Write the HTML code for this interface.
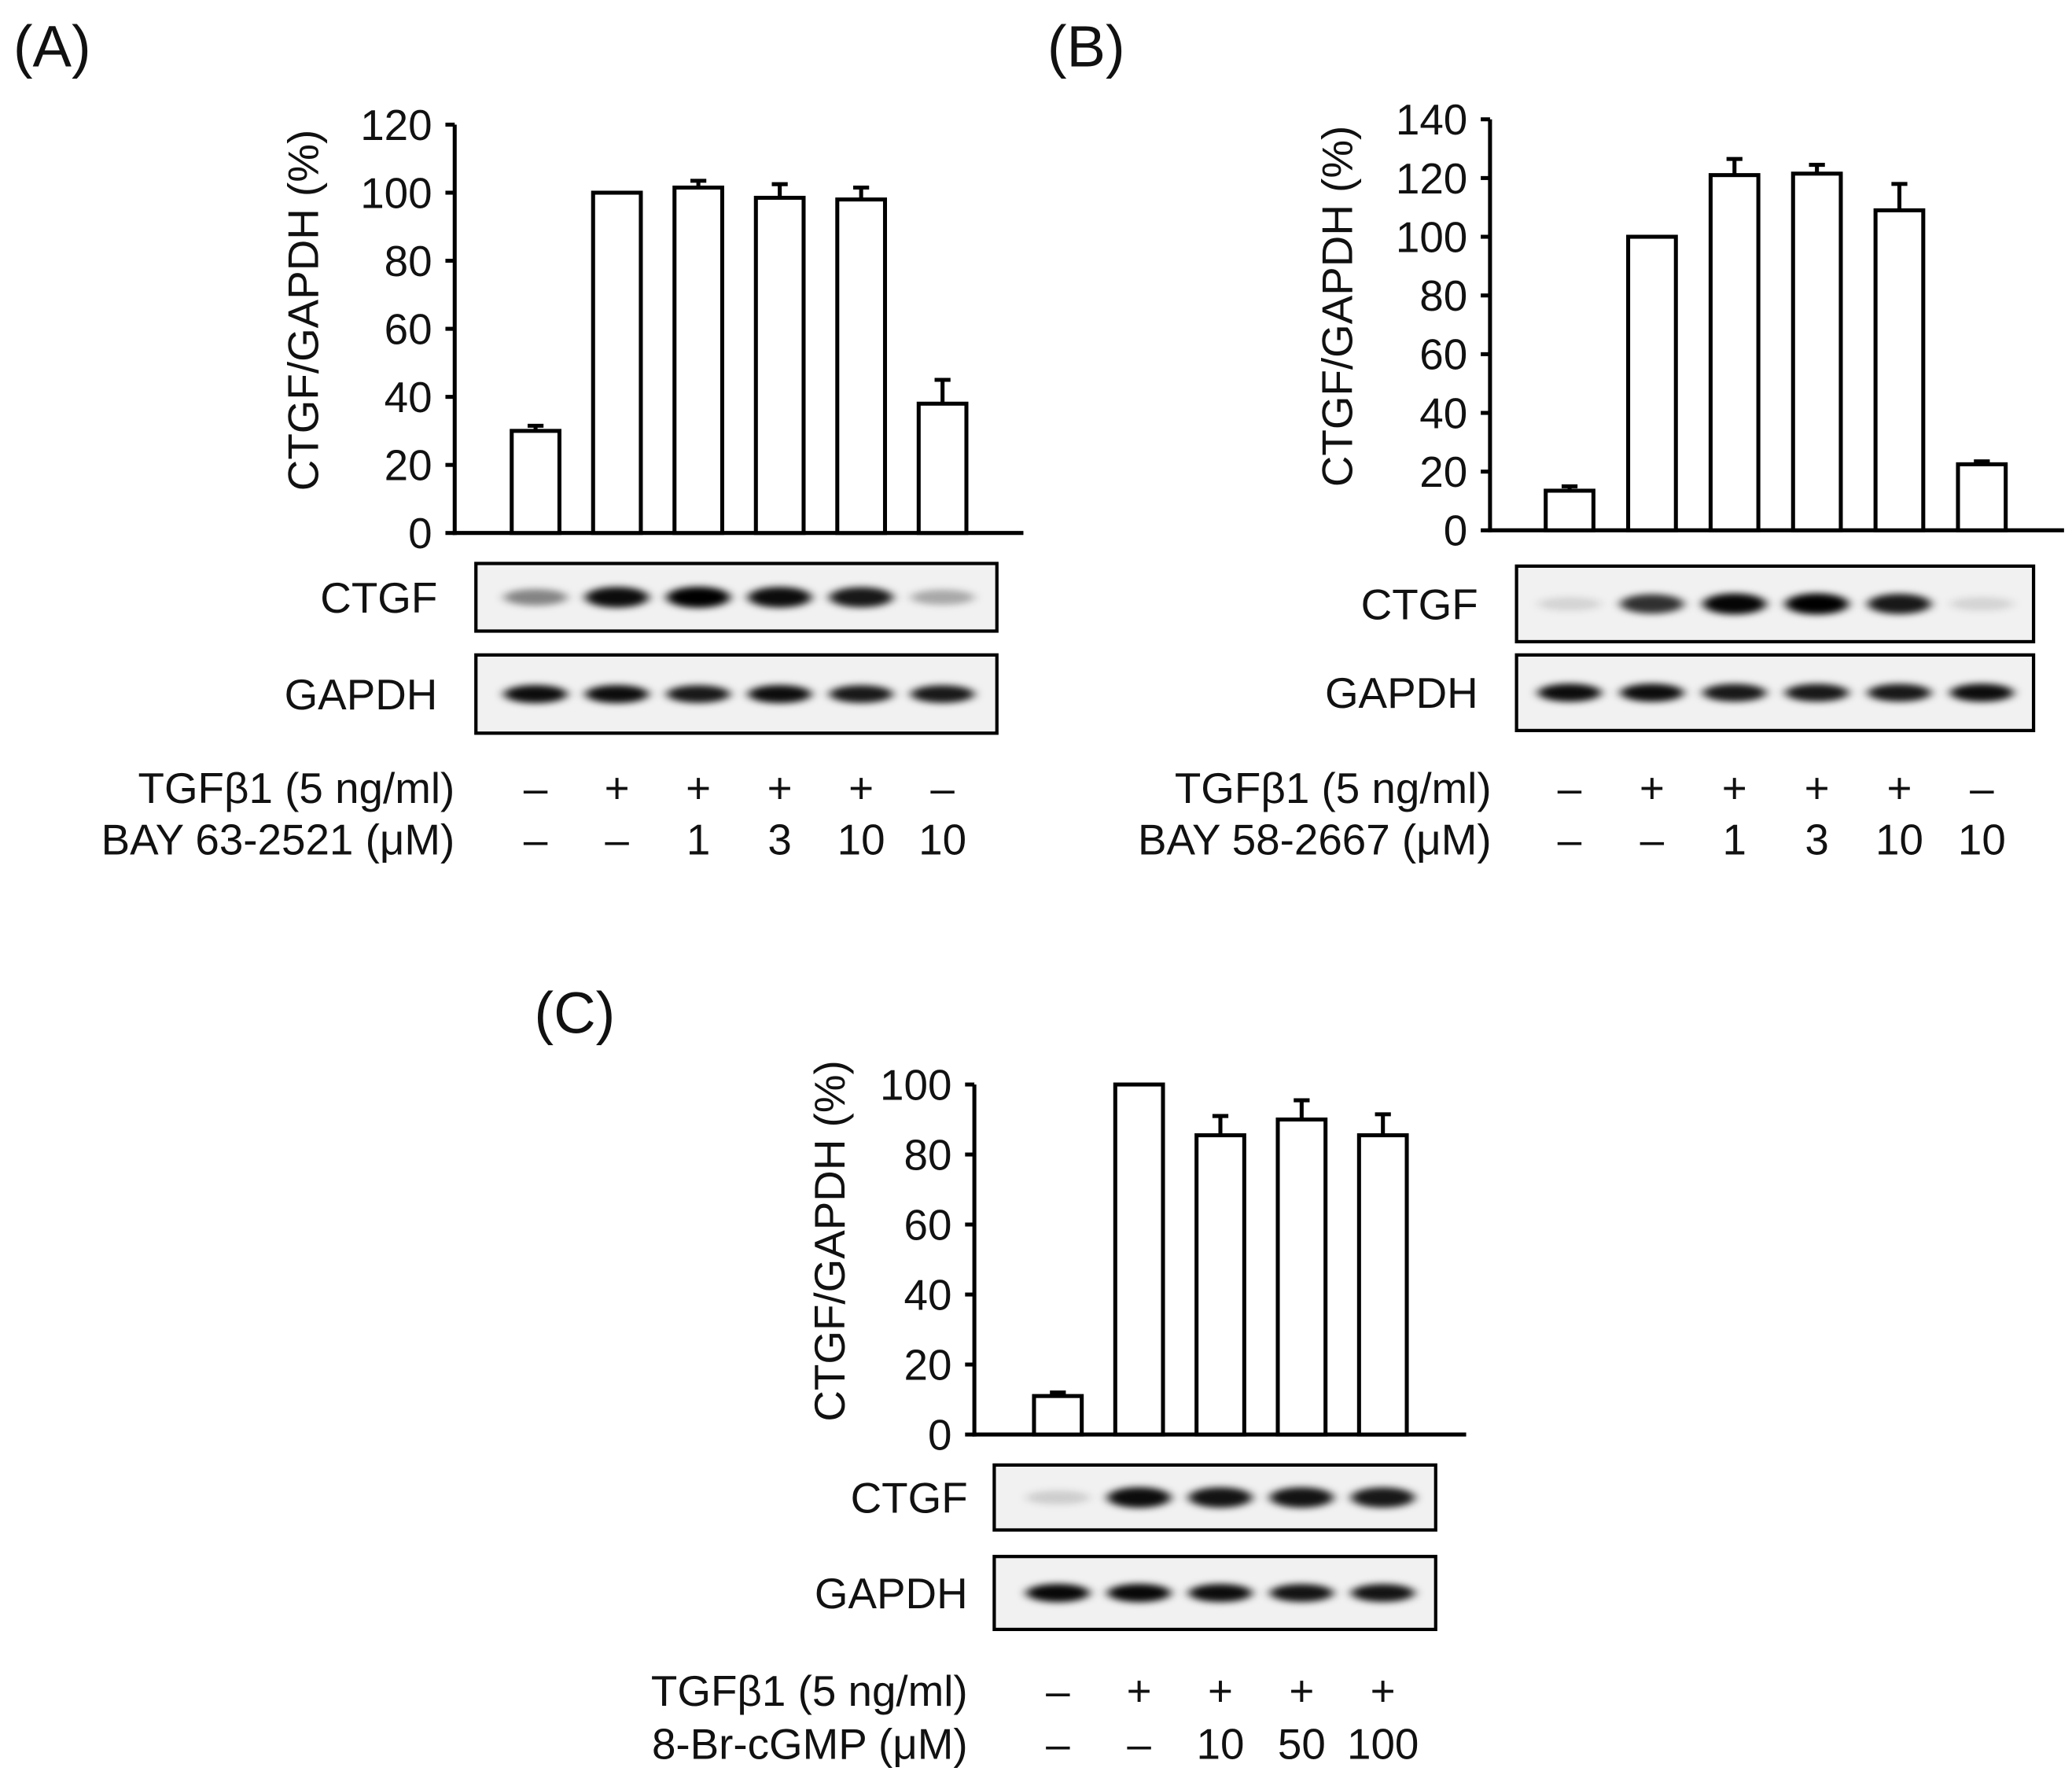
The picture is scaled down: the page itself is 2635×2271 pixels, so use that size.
<!DOCTYPE html>
<html><head><meta charset="utf-8"><style>
html,body{margin:0;padding:0;background:#fff;}
svg{display:block;font-family:"Liberation Sans",Arial,sans-serif;}
</style></head><body>
<svg id="fig" width="2635" height="2271" viewBox="0 0 1563 1347.1" xmlns="http://www.w3.org/2000/svg">
<defs><filter id="blur" x="-50%" y="-100%" width="200%" height="300%"><feGaussianBlur stdDeviation="4 2.5"/></filter></defs>
</svg>
<script>
// Panel A data
const aValues=[30,100,101.5,98.5,98,38];
const aErrors=[1.5,0,2,4,3.5,7];
const aTicks=[0,20,40,60,80,100,120];
const aTgf=["–","+","+","+","+","–"];
const aDrug=["–","–","1","3","10","10"];
const aCtgf=[0.45,0.95,1.0,0.95,0.9,0.3];
const aGapdh=[0.95,0.95,0.9,0.95,0.9,0.9];
// Panel B data
const bValues=[13.5,100,121,121.5,109,22.5];
const bErrors=[1.5,0,5.5,3,9,1];
const bTicks=[0,20,40,60,80,100,120,140];
const bTgf=["–","+","+","+","+","–"];
const bDrug=["–","–","1","3","10","10"];
const bCtgf=[0.12,0.8,0.98,1.0,0.9,0.12];
const bGapdh=[0.95,0.95,0.9,0.9,0.9,0.95];
// Panel C data
const cValues=[11,100,85.5,90,85.5];
const cErrors=[1,0,5.5,5.5,6];
const cTicks=[0,20,40,60,80,100];
const cTgf=["–","+","+","+","+"];
const cDrug=["–","–","10","50","100"];
const cCtgf=[0.15,0.95,0.92,0.92,0.9];
const cGapdh=[0.97,0.97,0.95,0.92,0.92];

const NS="http://www.w3.org/2000/svg";
const svg=document.getElementById('fig');
const FS=32.5;
function mk(tag,attrs,parent){const e=document.createElementNS(NS,tag);for(const k in attrs)e.setAttribute(k,attrs[k]);(parent||svg).appendChild(e);return e;}
function txt(s,x,y,size,anchor,parent){const t=mk('text',{x:x,y:y,'font-size':size,'text-anchor':anchor||'middle',fill:'#111'},parent);t.textContent=s;return t;}

function panel(o){
  const g=mk('g',{});
  
  
  const y=v=>o.y0-(v/o.max)*(o.y0-o.yTop);
  const x=i=>o.x0c+i*o.step;
  const lt=txt(o.letter,o.lx,o.ly,44,'start',g);
  
  
  const ya=mk('line',{x1:o.ax,y1:y(o.max),x2:o.ax,y2:o.y0+1.5,stroke:'#000','stroke-width':3},g);
  
  
  const xa=mk('line',{x1:o.ax-1.5,y1:o.y0,x2:o.axEnd,y2:o.y0,stroke:'#000','stroke-width':3},g);
  
  
  o.ticks.forEach(t=>{
    mk('line',{x1:o.ax-7,y1:y(t),x2:o.ax,y2:y(t),stroke:'#000','stroke-width':3},g);
    const tl=txt(String(t),o.ax-17,y(t)+11.5,FS,'end',g);
    
    
  });
  const tt=txt('CTGF/GAPDH (%)',0,0,FS,'middle',g);
  tt.setAttribute('transform',`translate(${o.titleX},${(y(o.max)+o.y0)/2-14}) rotate(-90)`);
  
  
  const bw=36;
  o.values.forEach((v,i)=>{
    const cx=x(i);
    if(o.errors[i]>0){
      const el=mk('g',{},g);
      
      
      mk('line',{x1:cx,y1:y(v),x2:cx,y2:y(v+o.errors[i]),stroke:'#000','stroke-width':3},el);
      mk('line',{x1:cx-6,y1:y(v+o.errors[i]),x2:cx+6,y2:y(v+o.errors[i]),stroke:'#000','stroke-width':3},el);
    }
    const r=mk('rect',{x:cx-bw/2,y:y(v),width:bw,height:o.y0-y(v),fill:'#fff',stroke:'#000','stroke-width':3},g);
    
    
  });
  function blot(b,vals,label,nm,bh){
    const bg=mk('g',{},g);
    
    
    mk('rect',{x:b.x1,y:b.y1,width:b.x2-b.x1,height:b.y2-b.y1,fill:'#f1f1f1',stroke:'#000','stroke-width':2.5},bg);
    const cy=(b.y1+b.y2)/2;
    vals.forEach((v,i)=>{
      mk('ellipse',{cx:x(i),cy:cy,rx:24,ry:bh*(0.6+0.4*v),fill:'#000','fill-opacity':v,filter:'url(#blur)'},bg);
    });
    const l=txt(label,o.blotLabelX,cy+11.5,FS,'end',bg);
    
    
  }
  blot(o.b1,o.ctgf,'CTGF','ctgf-blot',8);
  blot(o.b2,o.gapdh,'GAPDH','gapdh-blot',7);
  const r1=txt('TGFβ1 (5 ng/ml)',o.treatX,o.r1+10.5,FS,'end',g);
  
  
  const r2=txt(o.drug,o.treatX,o.r2+10.5,FS,'end',g);
  
  
  o.tgf.forEach((s,i)=>{const t=txt(s,x(i),o.r1+10.5,FS,'middle',g);});
  o.drugVals.forEach((s,i)=>{const t=txt(s,x(i),o.r2+10.5,FS,'middle',g);});
}

panel({name:'panel-a',letter:'(A)',lx:10,ly:50,ax:343,axEnd:772,y0:402,yTop:94,max:120,ticks:aTicks,values:aValues,errors:aErrors,
  x0c:404,step:61.4,titleX:240,b1:{x1:359,y1:425,x2:752,y2:476},b2:{x1:359,y1:494,x2:752,y2:553},blotLabelX:330,
  ctgf:aCtgf,gapdh:aGapdh,treatX:343,r1:595,r2:634,drug:'BAY 63-2521 (μM)',tgf:aTgf,drugVals:aDrug});
panel({name:'panel-b',letter:'(B)',lx:790,ly:50,ax:1124,axEnd:1557,y0:400,yTop:90,max:140,ticks:bTicks,values:bValues,errors:bErrors,
  x0c:1184,step:62.2,titleX:1020,b1:{x1:1144,y1:427,x2:1534,y2:484},b2:{x1:1144,y1:494,x2:1534,y2:551},blotLabelX:1115,
  ctgf:bCtgf,gapdh:bGapdh,treatX:1125,r1:595,r2:634,drug:'BAY 58-2667 (μM)',tgf:bTgf,drugVals:bDrug});
panel({name:'panel-c',letter:'(C)',lx:403,ly:779,ax:735,axEnd:1106,y0:1082,yTop:818,max:100,ticks:cTicks,values:cValues,errors:cErrors,
  x0c:798,step:61.3,titleX:637,b1:{x1:750,y1:1105,x2:1083,y2:1154},b2:{x1:750,y1:1174,x2:1083,y2:1229},blotLabelX:730,
  ctgf:cCtgf,gapdh:cGapdh,treatX:730,r1:1276,r2:1316,drug:'8-Br-cGMP (μM)',tgf:cTgf,drugVals:cDrug});
</script>
</body></html>
